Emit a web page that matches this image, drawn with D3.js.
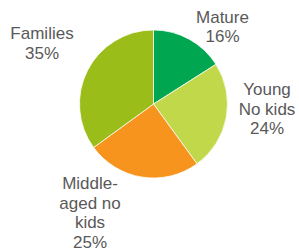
<!DOCTYPE html>
<html>
<head>
<meta charset="utf-8">
<script src="https://d3js.org/d3.v7.min.js"></script>
<style>
  html, body { margin: 0; padding: 0; background: #fff; }
  svg { display: block; }
</style>
</head>
<body>
<div id="chart"></div>
<script>
// Chart data
const categories = ["Mature", "Young\nNo kids", "Middle-\naged no\nkids", "Families"];
const shares = [16, 24, 25, 35];
const colors = ["#00a650", "#c1d84a", "#f7941d", "#9bbd1a"];

// Label spots relative to pie centre: [centre x, first baseline]
const labelSpots = [[69, -81.5], [113.5, -9], [-63.5, 85], [-111.5, -65]];

const width = 299, height = 251;
const cx = 153.5, cy = 104, radius = 74;

const svg = d3.select('#chart')
  .append('svg')
  .attr('width', width)
  .attr('height', height);

const g = svg.append('g')
  .attr('transform', `translate(${cx},${cy})`);

const pie = d3.pie()
  .sort(null)
  .value(d => d);

const arc = d3.arc()
  .innerRadius(0)
  .outerRadius(radius);

const arcs = pie(shares);

g.selectAll('path.slice')
  .data(arcs)
  .enter()
  .append('path')
  .attr('class', 'slice')
  .attr('d', arc)
  .style('fill', (d, i) => colors[i])
  .style('stroke', '#fff')
  .style('stroke-width', '0.75px');

// Labels
const lineH = 19.6;
const labels = g.selectAll('text.label')
  .data(arcs)
  .enter()
  .append('text')
  .attr('class', 'label')
  .attr('text-anchor', 'middle')
  .style('font-family', '"Liberation Sans", Arial, sans-serif')
  .style('font-size', '17px')
  .style('fill', '#595959');

labels.each(function(d, i) {
  const lines = categories[i].split('\n').concat([shares[i] + '%']);
  const [lx, ly] = labelSpots[i];
  d3.select(this).selectAll('tspan')
    .data(lines)
    .enter()
    .append('tspan')
    .attr('x', lx)
    .attr('y', (t, k) => ly + k * lineH)
    .text(t => t);
});
</script>
</body>
</html>
